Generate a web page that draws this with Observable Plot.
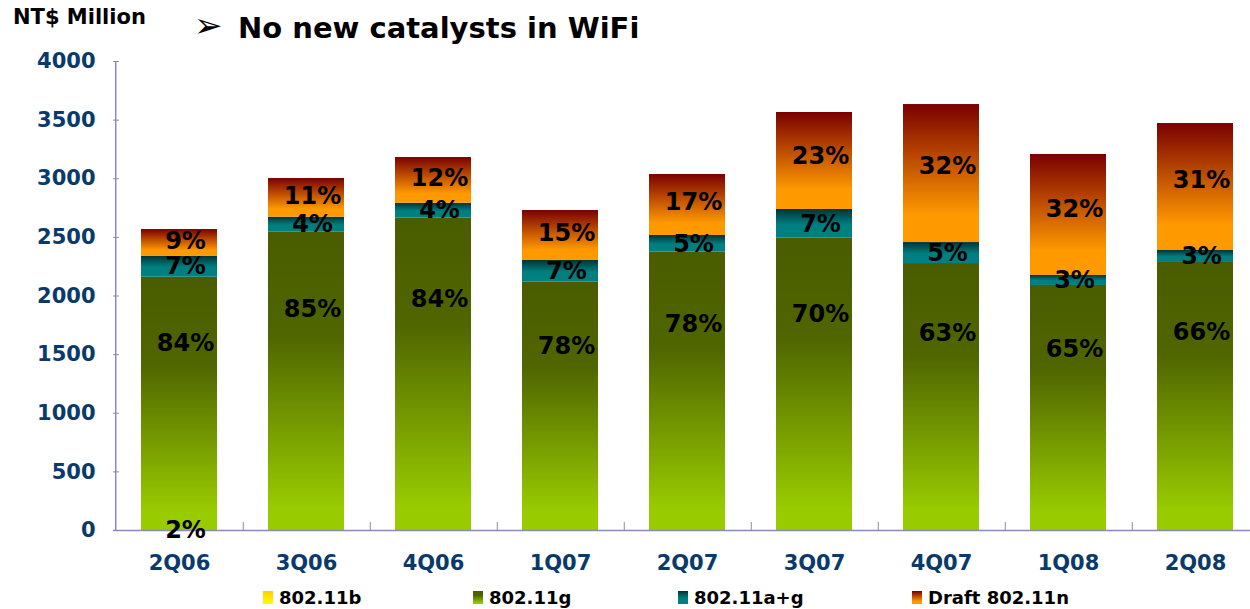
<!DOCTYPE html>
<html><head><meta charset="utf-8">
<script src="https://cdn.jsdelivr.net/npm/d3@7"></script>
<script src="https://cdn.jsdelivr.net/npm/@observablehq/plot@0.6"></script>
<style>
html,body{margin:0;padding:0;background:#fff;overflow:hidden;width:1250px;height:609px}
#wrap{position:relative;width:1250px;height:609px;font-family:"DejaVu Sans",Verdana,sans-serif;font-weight:bold;color:#000}
#unit{position:absolute;left:13px;top:5px;font-size:21px;z-index:2}
#title{position:absolute;left:194px;top:11px;font-size:29px;white-space:nowrap;z-index:2}
#title .arr{display:inline-block;width:44px;font-size:34px;line-height:29px;vertical-align:top}
#chart{position:absolute;left:0;top:0;z-index:1}
#chart svg{max-width:none !important;height:580px !important}
#legend{position:absolute;top:586px;left:0;width:1250px;height:22px;font-size:18px;z-index:2}
.item{position:absolute;top:0;white-space:nowrap;display:flex;align-items:center;height:22px}
.sw{display:inline-block;width:10px;height:13px;margin-right:6px}
</style>
</head><body>
<div id="wrap">
  <div id="unit">NT$ Million</div>
  <div id="title"><span class="arr">➢</span>No new catalysts in WiFi</div>
  <div id="chart"></div>
  <div id="legend"></div>
</div>
<script>
// ---- data ----
const quarters = ["2Q06","3Q06","4Q06","1Q07","2Q07","3Q07","4Q07","1Q08","2Q08"];
const series = ["802.11b","802.11g","802.11a+g","Draft 802.11n"];
const v80211b  = [0, 0, 0, 0, 0, 0, 0, 0, 0];
const v80211g  = [2160, 2544, 2664, 2118, 2374, 2493, 2277, 2090, 2286];
const v80211ag = [180, 128, 127, 185, 142, 245, 179, 85, 102];
const v80211n  = [227, 330, 390, 426, 520, 827, 1177, 1032, 1083];
const pct80211b  = ["2%", "", "", "", "", "", "", "", ""];
const pct80211g  = ["84%","85%","84%","78%","78%","70%","63%","65%","66%"];
const pct80211ag = ["7%","4%","4%","7%","5%","7%","5%","3%","3%"];
const pct80211n  = ["9%","11%","12%","15%","17%","23%","32%","32%","31%"];
const yTicks = [0, 500, 1000, 1500, 2000, 2500, 3000, 3500, 4000];

// ---- styles ----
const gradIds = ["grad-b", "grad-g", "grad-ag", "grad-n"];
const gradStops = [
  [[0, "#ffcc00"], [1, "#ffff00"]],
  [[0, "#4a5c00"], [0.35, "#506600"], [0.93, "#99cc00"], [1, "#99cc00"]],
  [[0, "#003336"], [0.55, "#007f80"], [1, "#008080"]],
  [[0, "#7a0000"], [0.8, "#ff9900"], [1, "#ff9900"]]
];
const labelFrac = [0, 0.74, 0.5, 0.55];
const navy = "#0a3a6b";
const axisColor = "#8a8ab4";

// ---- build table ----
const values = [v80211b, v80211g, v80211ag, v80211n];
const pcts = [pct80211b, pct80211g, pct80211ag, pct80211n];
const rows = [], labels = [];
quarters.forEach((q, i) => {
  let base = 0;
  series.forEach((s, j) => {
    const v = values[j][i];
    rows.push({quarter: q, series: s, value: v});
    if (pcts[j][i]) labels.push({quarter: q, text: pcts[j][i], y: base + v * labelFrac[j]});
    base += v;
  });
});

const W = 1262, H = 580, ML = 113, MR = 1, MT = 61, MB = 50;
const step = (W - ML - MR) / quarters.length;

const chart = Plot.plot({
  width: W, height: H,
  marginLeft: ML, marginRight: MR, marginTop: MT, marginBottom: MB,
  style: {fontFamily: "'DejaVu Sans', Verdana, sans-serif", background: "transparent", overflow: "visible"},
  x: {domain: quarters, paddingInner: 0.4, paddingOuter: 0.2, label: null},
  y: {domain: [0, 4000], label: null},
  color: {domain: series, range: gradIds.map(id => `url(#${id})`)},
  marks: [
    Plot.barY(rows, Plot.stackY({x: "quarter", y: "value", fill: "series"})),
    Plot.ruleY([0], {stroke: axisColor, strokeWidth: 1.5}),
    Plot.ruleX([quarters[0]], {x: d => d, y1: 0, y2: 4000, dx: -step / 2, stroke: axisColor, strokeWidth: 1.5}),
    Plot.ruleX(quarters, {x: d => d, y1: 0, y2: 0, insetBottom: 8, dx: step / 2, stroke: axisColor}),
    Plot.tickY(yTicks, {y: d => d, insetRight: W - ML - MR - 6, stroke: axisColor}),
    Plot.axisY({ticks: yTicks, tickSize: 0, tickPadding: 18, fontSize: 21, fontWeight: "bold", fill: navy, tickFormat: d => String(d)}),
    Plot.axisX({tickSize: 0, tickPadding: 25, fontSize: 21, fontWeight: "bold", fill: navy}),
    Plot.text(labels, {x: "quarter", y: "y", text: "text", dx: 6, fontSize: 24, fontWeight: "bold", fill: "#000"})
  ]
});

// gradient defs
const defs = d3.select(chart).insert("defs", ":first-child");
gradIds.forEach((id, k) => {
  const lg = defs.append("linearGradient").attr("id", id)
    .attr("x1", 0).attr("y1", 0).attr("x2", 0).attr("y2", 1);
  gradStops[k].forEach(([o, c]) => lg.append("stop").attr("offset", o).attr("stop-color", c));
});
document.getElementById("chart").appendChild(chart);

// legend
const legendLeft = [263, 473, 678, 912];
const legend = document.getElementById("legend");
series.forEach((s, k) => {
  const it = document.createElement("div");
  it.className = "item";
  it.style.left = legendLeft[k] + "px";
  const sw = document.createElement("span");
  sw.className = "sw";
  sw.style.background = `linear-gradient(to bottom, ${gradStops[k].map(([o, c]) => c + " " + (o * 100) + "%").join(", ")})`;
  it.appendChild(sw);
  it.appendChild(document.createTextNode(s));
  legend.appendChild(it);
});
</script>
</body></html>
